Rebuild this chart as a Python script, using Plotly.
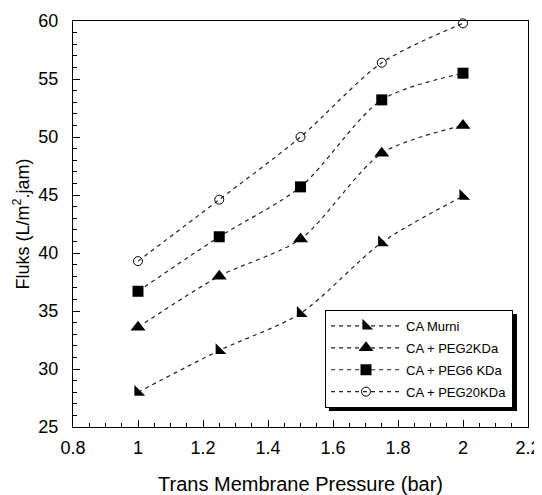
import plotly.graph_objects as go

tmp = [1.0, 1.25, 1.5, 1.75, 2.0]
ca_murni = [28.0, 31.6, 34.8, 40.9, 44.9]
peg2 = [33.6, 38.0, 41.2, 48.6, 51.0]
peg6 = [36.7, 41.4, 45.7, 53.2, 55.5]
peg20 = [39.3, 44.6, 50.0, 56.4, 59.8]

names = ["CA Murni", "CA + PEG2KDa", "CA + PEG6 KDa", "CA + PEG20KDa"]
series = [ca_murni, peg2, peg6, peg20]
markers = [
    dict(symbol="triangle-sw", size=12, color="black"),
    dict(symbol="triangle-up", size=13, color="black"),
    dict(symbol="square", size=11, color="black"),
    dict(symbol="circle-open", size=9, color="black", line=dict(width=1, color="black")),
]

fig = go.Figure()
for i, (nm, ys, mk) in enumerate(zip(names, series, markers)):
    if "line" not in mk:
        mk = dict(mk, line=dict(width=0))
    fig.add_trace(go.Scatter(
        x=tmp, y=ys, name=nm, mode="lines+markers",
        line=dict(color="#222222", width=1.2, dash="4px,4px", shape="spline", smoothing=0.8),
        marker=mk, legendgroup=f"g{i}", cliponaxis=False,
    ))

# page body has an 8px margin; work in screen pixels and subtract it
OFF = 8
W, H = 534, 487
plot_left, plot_right, plot_top, plot_bottom = 73, 528, 21, 427
L = plot_left - OFF
R = W - (plot_right - OFF)
T = plot_top - OFF
B = H - (plot_bottom - OFF)
pw = W - L - R
ph = H - T - B

def px_x(x):
    return (x - plot_left) / pw

def px_y(y):
    return (plot_bottom - y) / ph

fig.add_shape(type="rect", xref="paper", yref="paper",
              x0=px_x(329), x1=px_x(517), y0=px_y(411), y1=px_y(314),
              fillcolor="black", line=dict(width=0), layer="above")

axis_font = dict(family="Liberation Sans, Arial", size=18, color="black")
fig.update_layout(
    width=W, height=H,
    margin=dict(l=L, r=R, t=T, b=B, autoexpand=False),
    plot_bgcolor="white", paper_bgcolor="white",
    showlegend=True,
    legend=dict(
        x=px_x(325), y=px_y(310), xanchor="left", yanchor="top",
        bgcolor="white", bordercolor="black", borderwidth=1,
        font=dict(family="Liberation Sans, Arial", size=13, color="black"),
        tracegroupgap=2, traceorder="grouped", itemwidth=70,
    ),
    xaxis=dict(
        range=[0.8, 2.2], tickmode="linear", tick0=0.8, dtick=0.2,
        ticks="inside", ticklen=7, tickwidth=1, tickcolor="black",
        minor=dict(dtick=0.05, ticks="inside", ticklen=4, tickcolor="black", tickwidth=1),
        showline=True, linecolor="black", linewidth=1, mirror=True,
        showgrid=False, zeroline=False, automargin=False,
        tickfont=axis_font, ticklabelstandoff=4,
        title=dict(text="Trans Membrane Pressure (bar)",
                   font=dict(family="Liberation Sans, Arial", size=20, color="black"), standoff=20),
    ),
    yaxis=dict(
        range=[25, 60], tickmode="linear", tick0=25, dtick=5,
        ticks="inside", ticklen=7, tickwidth=1, tickcolor="black",
        minor=dict(dtick=1, ticks="inside", ticklen=4, tickcolor="black", tickwidth=1),
        showline=True, linecolor="black", linewidth=1, mirror=True,
        showgrid=False, zeroline=False, automargin=False,
        tickfont=axis_font, ticklabelstandoff=10,
        title=dict(text="Fluks (L/m<sup>2</sup>.jam)",
                   font=dict(family="Liberation Sans, Arial", size=18, color="black"), standoff=4),
    ),
)

fig.write_html("out.html")
